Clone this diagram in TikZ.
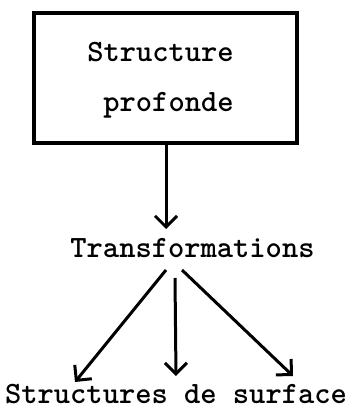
\documentclass[tikz,border=0pt]{standalone}
\usetikzlibrary{arrows.meta}
\begin{document}
\begin{tikzpicture}[x=1pt,y=-1pt,
  lbl/.style={inner sep=0pt,anchor=base,font=\fontsize{31}{31}\selectfont\ttfamily\bfseries},
  boxstyle/.style={draw,line width=3.2pt,minimum width=263pt,minimum height=130pt,inner sep=0pt},
  arr/.style={line width=3pt,-{Straight Barb[length=11pt,width=22pt,line width=3pt]}}]
\useasboundingbox (0,0) rectangle (351,411);
\node[boxstyle] (box) at (165.5,78) {};
\node[lbl] (s1) at (160.5,62) {Structure};
\node[lbl] (s2) at (168.5,112) {profonde};
\node[lbl] (trans) at (192.5,257) {Transformations};
\node[lbl] (surf) at (176,403) {Structures de surface};
\coordinate (t0) at (166,229);
\coordinate (a1) at (166,270);
\coordinate (a2) at (175,278);
\coordinate (a3) at (182,270);
\coordinate (b1) at (75,382);
\coordinate (b2) at (176,376);
\coordinate (b3) at (293,376);
\draw[arr] (box.south -| t0) -- (t0);
\draw[arr] (a1) -- (b1);
\draw[arr] (a2) -- (b2);
\draw[arr] (a3) -- (b3);
\end{tikzpicture}
\end{document}
